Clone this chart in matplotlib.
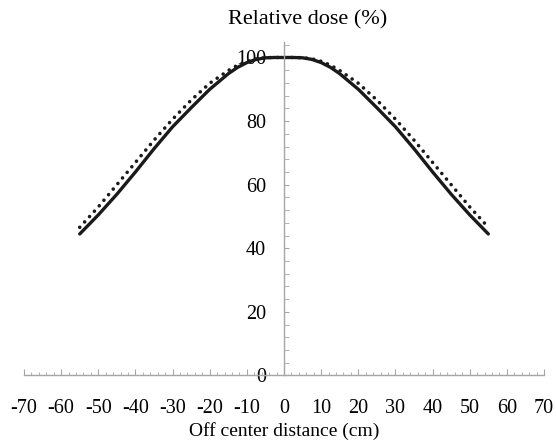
import numpy as np
import matplotlib
matplotlib.use("Agg")
import matplotlib.pyplot as plt
from matplotlib.ticker import MultipleLocator

plt.rcParams["font.family"] = ["Liberation Serif", "DejaVu Serif"]
plt.rcParams["axes.unicode_minus"] = False

# off-center distance (cm) and relative dose (%)
distance = [-55, -50, -45, -40, -35, -30, -25, -20, -15, -12.5, -10, -7.5, -5, -2.5, 0,
            2.5, 5, 7.5, 10, 12.5, 15, 20, 25, 30, 35, 40, 45, 50, 55]
dose_solid = [44.5, 50.5, 57.0, 64.0, 71.3, 78.2, 84.2, 90.0, 94.9, 96.9, 98.4, 99.4, 99.9, 100.0, 100.0,
              100.0, 99.9, 99.4, 98.4, 96.9, 94.9, 90.0, 84.2, 78.2, 71.3, 64.0, 57.0, 50.5, 44.5]
dose_dotted = [46.6, 53.0, 60.0, 67.0, 74.0, 80.6, 86.6, 91.9, 95.9, 97.6, 98.8, 99.6, 99.95, 100.0, 100.0,
               100.0, 99.95, 99.6, 98.8, 97.6, 95.9, 91.9, 86.6, 80.6, 74.0, 67.0, 60.0, 53.0, 46.6]

fig = plt.figure(figsize=(5.56, 4.42), dpi=100)
ax = fig.add_axes([0.0432, 0.1505, 0.9353, 0.7554])

ax.plot(distance, dose_dotted, color="#1a1a1a", lw=2.6,
        linestyle=(0, (0.01, 2.0)), dash_capstyle="round")
ax.plot(distance, dose_solid, color="#1a1a1a", lw=2.4, solid_capstyle="round")

ax.set_xlim(-70, 70)
ax.set_ylim(0, 105)

gray = "#a6a6a6"
for s in ["top", "right"]:
    ax.spines[s].set_visible(False)
ax.spines["left"].set_position(("data", 0))
ax.spines["left"].set_color(gray)
ax.spines["bottom"].set_color(gray)
ax.spines["left"].set_linewidth(1.0)
ax.spines["bottom"].set_linewidth(1.0)

ax.xaxis.set_major_locator(MultipleLocator(10))
ax.xaxis.set_minor_locator(MultipleLocator(2))
ax.yaxis.set_major_locator(MultipleLocator(20))
ax.yaxis.set_minor_locator(MultipleLocator(4))

ax.tick_params(axis="x", which="major", direction="in", length=4, color=gray,
               labelsize=14.5, pad=17)
ax.tick_params(axis="x", which="minor", direction="in", length=2.5, color=gray)
ax.tick_params(axis="y", which="both", direction="in", length=3.5, color=gray,
               labelsize=14.5, pad=13)

ax.text(0.545, 1.065, "Relative dose (%)", transform=ax.transAxes,
        ha="center", va="center", fontsize=16)
ax.set_xlabel("Off center distance (cm)", fontsize=14, labelpad=3)

plt.savefig("out.png", dpi=100)
plt.close()
